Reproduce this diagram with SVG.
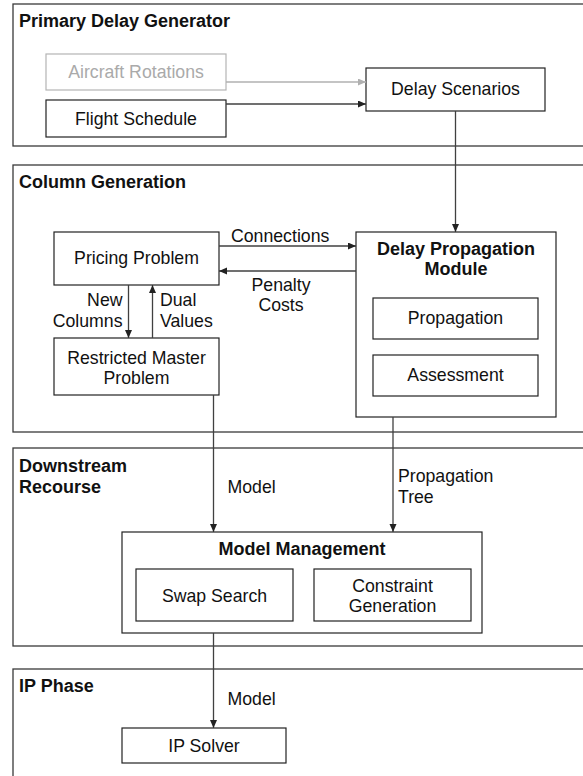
<svg xmlns="http://www.w3.org/2000/svg" width="583" height="776" viewBox="0 0 583 776">
  <style>
    .panel { fill: #ffffff; stroke: #3a3a3a; stroke-width: 1.3; }
    .box { fill: #ffffff; stroke: #222222; stroke-width: 1.2; }
    .box-muted { fill: #ffffff; stroke: #b4b4b4; stroke-width: 1.2; }
    .txt { font-family: "Liberation Sans", Arial, Helvetica, sans-serif; font-size: 17.7px; fill: #111111; }
    .bold { font-weight: bold; font-size: 18px; }
    .mid { text-anchor: middle; }
    .end { text-anchor: end; }
    .muted { fill: #aaaaaa; }
    .wire { fill: none; stroke: #404040; stroke-width: 1.3; marker-end: url(#head); }
    .wire-muted { fill: none; stroke: #b0b0b0; stroke-width: 1.3; marker-end: url(#head-muted); }
  </style>
  <defs>
    <marker id="head" markerUnits="userSpaceOnUse" markerWidth="9" markerHeight="8" refX="8" refY="3.5" orient="auto">
      <path d="M0,0 L8,3.5 L0,7 Z" fill="#222222"/>
    </marker>
    <marker id="head-muted" markerUnits="userSpaceOnUse" markerWidth="9" markerHeight="8" refX="8" refY="3.5" orient="auto">
      <path d="M0,0 L8,3.5 L0,7 Z" fill="#b0b0b0"/>
    </marker>
  </defs>

  <rect width="583" height="776" fill="#ffffff"/>

  <!-- stage panels (right edges run past the canvas) -->
  <g id="panel-primary">
    <rect class="panel" x="13" y="4" width="600" height="142"/>
    <text class="txt bold" x="19" y="27">Primary Delay Generator</text>
  </g>
  <g id="panel-colgen">
    <rect class="panel" x="13" y="165" width="600" height="267"/>
    <text class="txt bold" x="19" y="188">Column Generation</text>
  </g>
  <g id="panel-downstream">
    <rect class="panel" x="13" y="448" width="600" height="198"/>
    <text class="txt bold" x="19" y="472">Downstream</text>
    <text class="txt bold" x="19" y="493">Recourse</text>
  </g>
  <g id="panel-ip">
    <rect class="panel" x="13" y="669" width="600" height="140"/>
    <text class="txt bold" x="19" y="692">IP Phase</text>
  </g>

  <!-- nodes -->
  <g id="aircraft-rotations">
    <rect class="box-muted" x="46" y="54" width="180" height="36"/>
    <text class="txt mid muted" x="136" y="78">Aircraft Rotations</text>
  </g>
  <g id="flight-schedule">
    <rect class="box" x="46" y="100" width="180" height="37"/>
    <text class="txt mid" x="136" y="124.5">Flight Schedule</text>
  </g>
  <g id="delay-scenarios">
    <rect class="box" x="366" y="68" width="179" height="43"/>
    <text class="txt mid" x="455.5" y="95">Delay Scenarios</text>
  </g>
  <g id="pricing-problem">
    <rect class="box" x="54" y="232" width="165" height="53"/>
    <text class="txt mid" x="136.5" y="264">Pricing Problem</text>
  </g>
  <g id="restricted-master">
    <rect class="box" x="54" y="338" width="165" height="57"/>
    <text class="txt mid" x="136.5" y="363.5">Restricted Master</text>
    <text class="txt mid" x="136.5" y="383.5">Problem</text>
  </g>
  <g id="delay-propagation-module">
    <rect class="box" x="356" y="232" width="200" height="185"/>
    <text class="txt bold mid" x="456" y="255">Delay Propagation</text>
    <text class="txt bold mid" x="456" y="275">Module</text>
  </g>
  <g id="propagation">
    <rect class="box" x="373" y="298" width="165" height="41"/>
    <text class="txt mid" x="455.5" y="324">Propagation</text>
  </g>
  <g id="assessment">
    <rect class="box" x="373" y="355" width="165" height="41"/>
    <text class="txt mid" x="455.5" y="381">Assessment</text>
  </g>
  <g id="model-management">
    <rect class="box" x="122" y="532" width="360" height="101"/>
    <text class="txt bold mid" x="302" y="555">Model Management</text>
  </g>
  <g id="swap-search">
    <rect class="box" x="136" y="569" width="157" height="52"/>
    <text class="txt mid" x="214.5" y="601.5">Swap Search</text>
  </g>
  <g id="constraint-generation">
    <rect class="box" x="314" y="569" width="157" height="52"/>
    <text class="txt mid" x="392.5" y="591.5">Constraint</text>
    <text class="txt mid" x="392.5" y="611.5">Generation</text>
  </g>
  <g id="ip-solver">
    <rect class="box" x="122" y="728" width="164" height="35"/>
    <text class="txt mid" x="204" y="752">IP Solver</text>
  </g>

  <!-- connectors -->
  <g id="connectors">
    <path class="wire-muted" d="M226,82 H366"/>
    <path class="wire" d="M226,104 H366"/>
    <path class="wire" d="M455.5,111 V232"/>
    <path class="wire" d="M219,246 H356"/>
    <path class="wire" d="M356,271 H219"/>
    <path class="wire" d="M128.5,285 V338"/>
    <path class="wire" d="M152.5,338 V285"/>
    <path class="wire" d="M213.5,395 V532"/>
    <path class="wire" d="M393,417 V532"/>
    <path class="wire" d="M213.5,633 V728"/>
  </g>

  <!-- connector labels -->
  <g id="connector-labels">
    <text class="txt" x="231" y="242">Connections</text>
    <text class="txt mid" x="281" y="291">Penalty</text>
    <text class="txt mid" x="281" y="311">Costs</text>
    <text class="txt end" x="122.5" y="306">New</text>
    <text class="txt end" x="122.5" y="327">Columns</text>
    <text class="txt" x="160" y="306">Dual</text>
    <text class="txt" x="160" y="327">Values</text>
    <text class="txt" x="227.5" y="493">Model</text>
    <text class="txt" x="398" y="482">Propagation</text>
    <text class="txt" x="398" y="502.5">Tree</text>
    <text class="txt" x="227.5" y="705">Model</text>
  </g>
</svg>
